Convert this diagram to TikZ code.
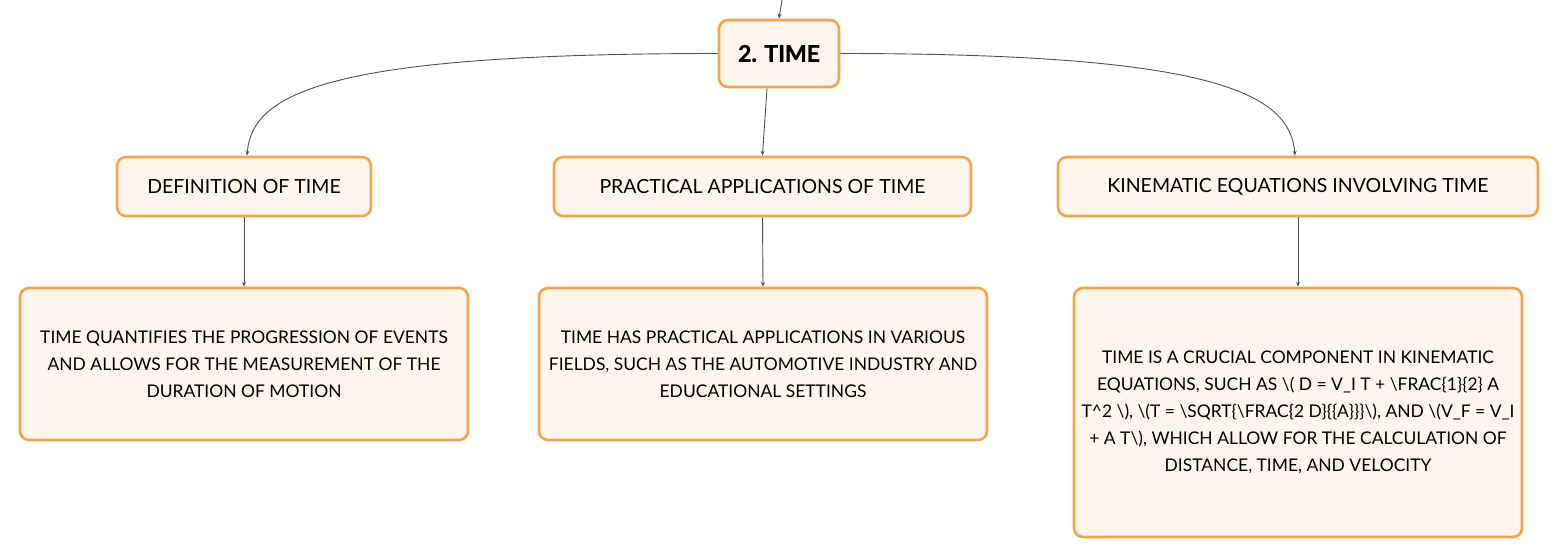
\documentclass[tikz,border=0pt]{standalone}
\usepackage{fontspec}
\setmainfont{Lato}
\usetikzlibrary{arrows.meta}
\definecolor{boxfill}{HTML}{FEF5EC}
\definecolor{boxline}{HTML}{F5A44A}
\definecolor{conncol}{HTML}{505050}
\tikzset{
  box/.style={draw=boxline, line width=2.6pt, fill=boxfill, rounded corners=9pt, inner sep=0pt, align=center, text=black},
  headbox/.style={box, font=\fontsize{19.5}{24}\selectfont, minimum height=59pt},
  bodybox/.style={box, font=\fontsize{17.45}{27}\selectfont, minimum width=448pt},
  conn/.style={draw=conncol, line width=0.9pt, -{Stealth[length=5pt,width=4pt]}}
}
\begin{document}
\begin{tikzpicture}[x=1pt,y=-1pt]
\useasboundingbox (0,0) rectangle (1560,558);
\coordinate (in) at (782,0);
\node[box, minimum width=120pt, minimum height=67pt, font=\bfseries\fontsize{23}{28}\selectfont] (time) at (779,53.5) {\addfontfeatures{FakeBold=1.2}2. TIME};
\node[headbox, minimum width=254pt] (def) at (244,186.5) {DEFINITION OF TIME};
\node[headbox, minimum width=417pt] (prac) at (762.5,186.5) {PRACTICAL APPLICATIONS OF TIME};
\node[headbox, minimum width=480pt] (kin) at (1298,186.5) {KINEMATIC EQUATIONS INVOLVING TIME};
\node[bodybox, minimum height=152pt] (d1) at (244,364) {TIME QUANTIFIES THE PROGRESSION OF EVENTS\\AND ALLOWS FOR THE MEASUREMENT OF THE\\DURATION OF MOTION};
\node[bodybox, minimum height=152pt] (p1) at (763,364) {TIME HAS PRACTICAL APPLICATIONS IN VARIOUS\\FIELDS, SUCH AS THE AUTOMOTIVE INDUSTRY AND\\EDUCATIONAL SETTINGS};
\node[bodybox, minimum height=249pt] (k1) at (1298,412.5) {TIME IS A CRUCIAL COMPONENT IN KINEMATIC\\EQUATIONS, SUCH AS \textbackslash( D = V\_I T + \textbackslash FRAC\{1\}\{2\} A\\T\textasciicircum 2 \textbackslash), \textbackslash(T = \textbackslash SQRT\{\textbackslash FRAC\{2 D\}\{\{A\}\}\}\textbackslash), AND \textbackslash(V\_F = V\_I\\+ A T\textbackslash), WHICH ALLOW FOR THE CALCULATION OF\\DISTANCE, TIME, AND VELOCITY};
\draw[conn] (in) -- (time.north);
\draw[conn] (time.west) .. controls (330,53.5) and (252,92) .. ([xshift=3pt]def.north);
\draw[conn] ([xshift=-12pt]time.south) .. controls (764,120) .. (prac.north);
\draw[conn] (time.east) .. controls (1210,53.5) and (1290,92) .. ([xshift=-3pt]kin.north);
\draw[conn] (def.south) -- (d1.north);
\draw[conn] (prac.south) -- (p1.north);
\draw[conn] (kin.south) -- (k1.north);
\end{tikzpicture}
\end{document}
